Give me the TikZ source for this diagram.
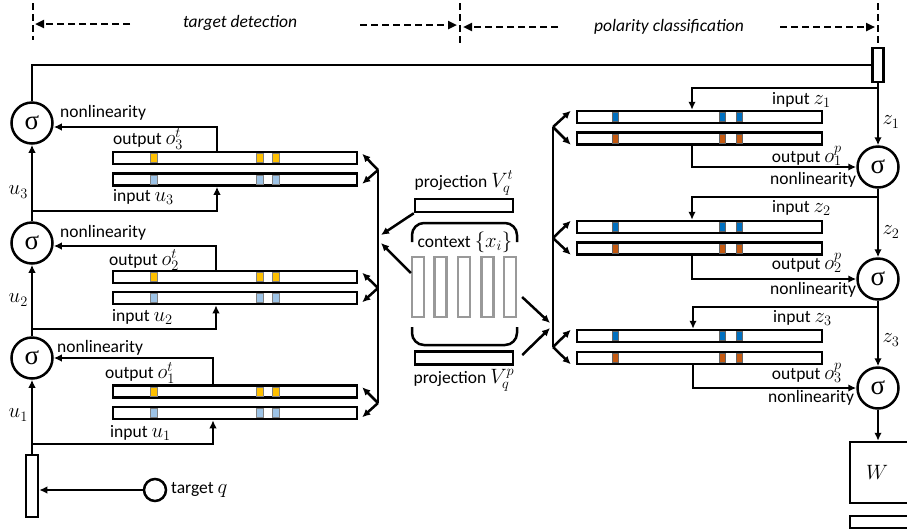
\documentclass[tikz,border=0pt]{standalone}
\usepackage{fontspec}
\setmainfont{Carlito}
\newfontfamily\sigff{Liberation Serif}
\usetikzlibrary{arrows.meta}
\DeclareMathSizes{17.5}{20.74}{14.4}{12}
\definecolor{orgL}{HTML}{FFC000}
\definecolor{bluL}{HTML}{9DC3E6}
\definecolor{bluR}{HTML}{0070C0}
\definecolor{orgR}{HTML}{C55A11}
\newcommand\fs{\fontsize{17.5}{20}\selectfont}
\newcommand\sigfont{\sigff\fontsize{27}{27}\selectfont}
\tikzset{
  ln/.style={line width=2.5pt},
  arr/.style={ln, -{Latex[length=8pt,width=7.5pt]}},
  dsh/.style={line width=2.4pt, dash pattern=on 7pt off 4pt},
  darr/.style={dsh, -{Triangle[length=9pt,width=8pt]}},
  barL/.style={draw, fill=white, line width=2.5pt, minimum width=244pt, minimum height=12pt, inner sep=0pt},
  barR/.style={draw, fill=white, line width=2.5pt, minimum width=245pt, minimum height=12pt, inner sep=0pt},
  sig/.style={circle, draw, line width=2.5pt, minimum size=41pt, inner sep=0pt, font=\sigfont},
  lbl/.style={inner sep=0pt, font=\fs},
  boxn/.style={draw, line width=2.5pt, inner sep=0pt},
}
\newcommand\lbar[3]{%
  \node[barL] (#1) at (235,#2) {};
  \foreach \m in {150,256,272} \filldraw[fill=#3, draw=black!50, line width=0.5pt] (\m,#2-4.7) rectangle (\m+7,#2+4.7);
}
\newcommand\rbar[3]{%
  \node[barR] (#1) at (699.5,#2) {};
  \foreach \m in {612,719,736} \filldraw[fill=#3, draw=black!60, line width=0.5pt] (\m,#2-4.7) rectangle (\m+6,#2+4.7);
}
\begin{document}
\begin{tikzpicture}[x=1pt,y=-1pt,font=\fs]
\clip (0,0) rectangle (907,531);
\fill[white] (0,0) rectangle (907,531);

% header
\coordinate (hL) at (33,24);
\coordinate (hM) at (460,25);
\coordinate (hR) at (878,27);
\draw[dsh] (33,3) -- (33,40);
\draw[dsh] (460,3) -- (460,44);
\draw[dsh] (878,3) -- (878,47);
\node[lbl, font=\fs\itshape] (td) at (240,23) {target detection};
\node[lbl, font=\fs\itshape] (pc) at (669,27) {polarity classification};
\draw[darr] (130,24) -- ([xshift=2pt]hL);
\draw[darr] (360,25) -- ([xshift=-3pt]hM);
\draw[darr] (558,27) -- ([xshift=3pt]hM |- 0,27);
\draw[darr] (780,27) -- ([xshift=-3pt]hR);

% left column
\node[sig] (s3) at (32,123) {σ};
\node[sig] (s2) at (32,243) {σ};
\node[sig] (s1) at (32,358) {σ};
\node[boxn, minimum width=12pt, minimum height=62pt] (qb) at (32,486) {};
\node[circle, draw, line width=2.5pt, minimum size=22pt, inner sep=0pt] (q) at (155,490) {};
\node[lbl, anchor=west] (ql) at (171,490) {target $q$};
\draw[arr] (q.west) -- (q.west -| qb.east);
\draw[arr] (qb.north) -- (s1.south);
\draw[arr] (s1.north) -- (s2.south);
\draw[arr] (s2.north) -- (s3.south);
\node[boxn, minimum width=11pt, minimum height=34pt] (tb) at (878,65) {};
\draw[ln] (s3.north) |- (tb.west);

% left bars
\lbar{o3}{158}{orgL}
\lbar{i3}{179.5}{bluL}
\lbar{o2}{277}{orgL}
\lbar{i2}{298}{bluL}
\lbar{o1}{391.5}{orgL}
\lbar{i1}{413}{bluL}

\draw[arr] (s1.south |- 0,444) -| ([xshift=-22pt]i1.south);
\draw[arr] ([xshift=-22pt]o1.north) |- (s1.east);
\draw[arr] (s1.north |- 0,329) -| ([xshift=-19pt]i2.south);
\draw[arr] ([xshift=-19pt]o2.north) |- ([yshift=-3pt]s2.east);
\draw[arr] (s2.north |- 0,211) -| ([xshift=-18pt]i3.south);
\draw[arr] ([xshift=-18pt]o3.north) |- ([yshift=-4pt]s3.east);

\node[lbl, anchor=west] (n3) at (60,113) {nonlinearity};
\node[lbl, anchor=west] (n2) at (60,233) {nonlinearity};
\node[lbl, anchor=west] (n1) at (57,348) {nonlinearity};
\node[lbl, anchor=west] (lo3) at (113,139) {output $o_3^t$};
\node[lbl, anchor=west] (lo2) at (109,260) {output $o_2^t$};
\node[lbl, anchor=west] (lo1) at (105,373) {output $o_1^t$};
\node[lbl, anchor=west] (li3) at (113,197) {input $u_3$};
\node[lbl, anchor=west] (li2) at (112,317) {input $u_2$};
\node[lbl, anchor=west] (li1) at (110,433) {input $u_1$};
\node[lbl, anchor=east] (u3) at (28,192) {$u_3$};
\node[lbl, anchor=east] (u2) at (28,300) {$u_2$};
\node[lbl, anchor=east] (u1) at (28,415) {$u_1$};

% left forks
\coordinate (fL3) at (378,170);
\coordinate (fL2) at (378,288);
\coordinate (fL1) at (378,403);
\draw[ln] (fL3) -- (fL1);
\draw[arr] (fL3) -- ([xshift=4pt,yshift=-3pt]o3.north east);
\draw[arr] (fL3) -- ([xshift=4pt,yshift=3pt]i3.south east);
\draw[arr] (fL2) -- ([xshift=4pt,yshift=-3pt]o2.north east);
\draw[arr] (fL2) -- ([xshift=4pt,yshift=3pt]i2.south east);
\draw[arr] (fL1) -- ([xshift=4pt,yshift=-3pt]o1.north east);
\draw[arr] (fL1) -- ([xshift=4pt,yshift=3pt]i1.south east);

% middle
\node[boxn, minimum width=98pt, minimum height=13pt] (pt) at (464,205.5) {};
\node[boxn, minimum width=98pt, minimum height=13pt] (pp) at (464,358) {};
\node[lbl] (ptl) at (464,183) {projection $V_q^t$};
\node[lbl] (ppl) at (464,380) {projection $V_q^p$};
\foreach \i/\x in {1/418,2/440.5,3/464,4/487.5,5/510}
  \node[draw=black!40, line width=2.2pt, minimum width=12pt, minimum height=60pt, inner sep=0pt] (c\i) at (\x,287) {};
\node[lbl] (ctx) at (465,242) {context $\{x_i\}$};
\draw[ln, rounded corners=12pt] (412,242) -- (412,223) -- (517,223) -- (517,242);
\draw[ln, rounded corners=12pt] (412,327) -- (412,345) -- (517,345) -- (517,327);
\draw[arr] (pt.south west) -- (381,235);
\draw[arr] ([yshift=14pt]c1.west) -- (381,243);
\draw[arr] ([xshift=5pt,yshift=-10pt]c5.east) -- (550,323);
\draw[arr] ([xshift=8pt,yshift=3pt]pp.east) -- (550,328);

% right bars
\rbar{ri1}{117}{bluR}
\rbar{ro1}{138.5}{orgR}
\rbar{ri2}{227}{bluR}
\rbar{ro2}{248.5}{orgR}
\rbar{ri3}{336}{bluR}
\rbar{ro3}{358}{orgR}

\coordinate (fR1) at (553,127);
\coordinate (fR2) at (553,238);
\coordinate (fR3) at (553,347);
\draw[ln] (fR1) -- (fR3);
\draw[arr] (fR1) -- ([xshift=-5pt,yshift=-1pt]ri1.north west);
\draw[arr] (fR1) -- ([xshift=-5pt,yshift=1pt]ro1.south west);
\draw[arr] (fR2) -- ([xshift=-5pt,yshift=-1pt]ri2.north west);
\draw[arr] (fR2) -- ([xshift=-5pt,yshift=1pt]ro2.south west);
\draw[arr] (fR3) -- ([xshift=-5pt,yshift=-1pt]ri3.north west);
\draw[arr] (fR3) -- ([xshift=-5pt,yshift=1pt]ro3.south west);

% right column
\node[sig] (rs1) at (878,167) {σ};
\node[sig] (rs2) at (878,279) {σ};
\node[sig] (rs3) at (878,388) {σ};
\draw[arr] (tb.south) -- (rs1.north);
\draw[arr] (tb.south |- 0,88) -| ([xshift=-7.5pt]ri1.north);
\draw[arr] ([xshift=-7.5pt]ro1.south) |- (rs1.west);
\draw[arr] (rs1.south) -- (rs2.north);
\draw[arr] (rs1.south |- 0,197) -| ([xshift=-7.5pt]ri2.north);
\draw[arr] ([xshift=-7.5pt]ro2.south) |- (rs2.west);
\draw[arr] (rs2.south) -- (rs3.north);
\draw[arr] (rs2.south |- 0,307) -| ([xshift=-6.5pt]ri3.north);
\draw[arr] ([xshift=-6.5pt]ro3.south) |- (rs3.west);

\node[boxn, minimum width=70pt, minimum height=61pt] (W) at (885,472.5) {};
\node[lbl] (wl) at (877,472) {$W$};
\node[boxn, minimum width=70pt, minimum height=12pt] (wb) at (885,522) {};
\draw[arr] (rs3.south) -- (rs3.south |- W.north);

\node[lbl, anchor=west] (lz1) at (772,100) {input $z_1$};
\node[lbl, anchor=west] (lz2) at (772,208) {input $z_2$};
\node[lbl, anchor=west] (lz3) at (773,318) {input $z_3$};
\node[lbl, anchor=east] (op1) at (842,156) {output $o_1^p$};
\node[lbl, anchor=east] (op2) at (842,263) {output $o_2^p$};
\node[lbl, anchor=east] (op3) at (842,373) {output $o_3^p$};
\node[lbl, anchor=west] (rn1) at (770,180) {nonlinearity};
\node[lbl, anchor=west] (rn2) at (770,290) {nonlinearity};
\node[lbl, anchor=west] (rn3) at (768,398) {nonlinearity};
\node[lbl] (z1) at (891,122) {$z_1$};
\node[lbl] (z2) at (891,232) {$z_2$};
\node[lbl] (z3) at (891,340) {$z_3$};
\end{tikzpicture}
\end{document}
